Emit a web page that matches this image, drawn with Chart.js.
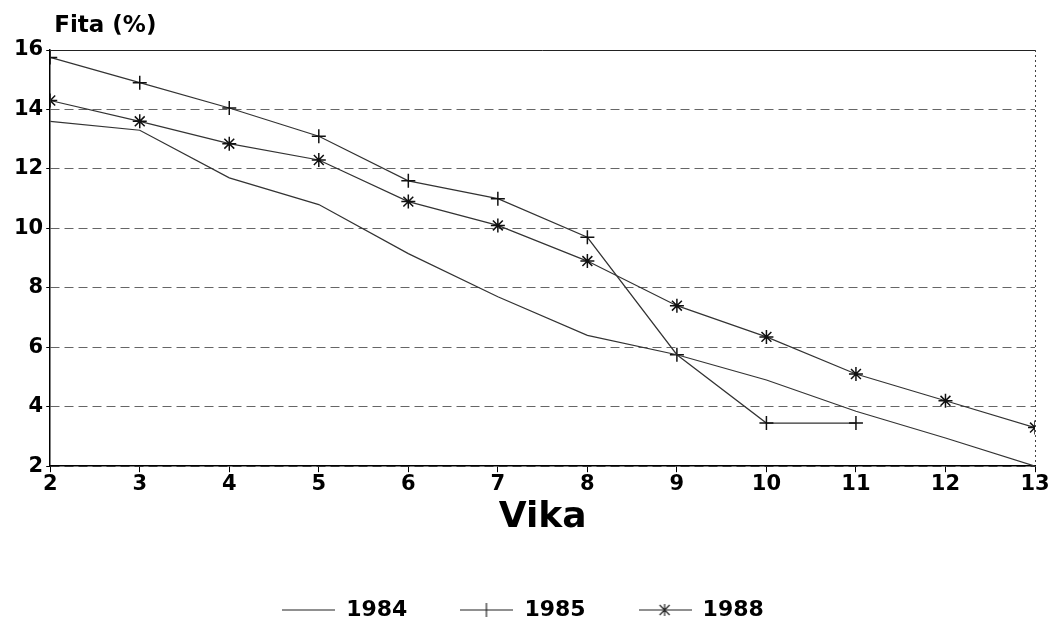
<!DOCTYPE html>
<html>
<head>
<meta charset="utf-8">
<script src="https://cdn.jsdelivr.net/npm/chart.js@4.4.1/dist/chart.umd.min.js"></script>
<style>
  body { margin: 0; background: #fff; }
</style>
</head>
<body>
<canvas id="chart" width="1052" height="631"></canvas>
<script>
const weeks = [2, 3, 4, 5, 6, 7, 8, 9, 10, 11, 12, 13];
const fat1984 = [13.6, 13.3, 11.7, 10.8, 9.15, 7.7, 6.4, 5.75, 4.9, 3.85, 2.95, 2.0];
const fat1985 = [15.75, 14.9, 14.05, 13.1, 11.6, 11.0, 9.7, 5.75, 3.45, 3.45];
const fat1988 = [14.3, 13.6, 12.85, 12.3, 10.9, 10.1, 8.9, 7.4, 6.35, 5.1, 4.2, 3.3];
const yTicks = [2, 4, 6, 8, 10, 12, 14, 16];

const FONT = "'DejaVu Sans', 'Liberation Sans', Arial, sans-serif";

const toPoints = (vals) => vals.map((v, i) => ({ x: weeks[i], y: v }));

// small legend icons: a line with the series marker in the middle
const legendIcon = (style) => {
    const c = document.createElement('canvas');
    c.width = 53; c.height = 16;
    const g = c.getContext('2d');
    g.strokeStyle = '#222';
    g.lineWidth = 1.2;
    g.beginPath(); g.moveTo(0, 8); g.lineTo(53, 8); g.stroke();
    if (style === 'cross') {
        g.beginPath(); g.moveTo(26, 1); g.lineTo(26, 15); g.stroke();
    } else if (style === 'star') {
        g.beginPath();
        g.moveTo(26, 2); g.lineTo(26, 14);
        g.moveTo(21, 3); g.lineTo(31, 13);
        g.moveTo(31, 3); g.lineTo(21, 13);
        g.stroke();
    }
    return c;
};

const yTitle = {
    id: 'yTitle',
    afterDraw(chart) {
        const { ctx, chartArea } = chart;
        ctx.save();
        ctx.fillStyle = '#000';
        ctx.font = "bold 23px " + FONT;
        ctx.textBaseline = 'middle';
        ctx.fillText('Fita (%)', chartArea.left + 4, 26);
        ctx.restore();
    }
};

new Chart(document.getElementById('chart'), {
    type: 'line',
    data: {
        datasets: [
            {
                label: '1984',
                data: toPoints(fat1984),
                borderColor: '#333',
                borderWidth: 1.2,
                pointRadius: 0,
                pointStyle: false
            },
            {
                label: '1985',
                data: toPoints(fat1985),
                borderColor: '#333',
                borderWidth: 1.2,
                pointStyle: 'cross',
                pointRadius: 7,
                pointBorderWidth: 1.5,
                pointBorderColor: '#111'
            },
            {
                label: '1988',
                data: toPoints(fat1988),
                borderColor: '#333',
                borderWidth: 1.2,
                pointStyle: 'star',
                pointRadius: 7,
                pointBorderWidth: 1.5,
                pointBorderColor: '#111'
            }
        ]
    },
    options: {
        responsive: false,
        animation: false,
        layout: {
            padding: { top: 50, right: 17, left: 11, bottom: 0 }
        },
        scales: {
            x: {
                type: 'linear',
                min: 2,
                max: 13,
                ticks: {
                    stepSize: 1,
                    color: '#000',
                    font: { family: FONT, size: 21, weight: 'bold' },
                    padding: 0
                },
                grid: {
                    color: (ctx) => ctx.tick && ctx.tick.value === 13 ? '#444' : 'rgba(0,0,0,0)',
                    tickColor: '#000',
                    tickLength: 6
                },
                border: { color: '#000', width: 1.5, dash: [2, 3] },
                title: {
                    display: true,
                    text: 'Vika',
                    color: '#000',
                    font: { family: FONT, size: 36, weight: 'bold', lineHeight: 1.1 },
                    padding: { top: 0, bottom: 9 }
                }
            },
            y: {
                min: 2,
                max: 16,
                afterBuildTicks: (axis) => { axis.ticks = yTicks.map(v => ({ value: v })); },
                ticks: {
                    color: '#000',
                    font: { family: FONT, size: 21, weight: 'bold' },
                    padding: 3
                },
                grid: {
                    color: (ctx) => ctx.tick && ctx.tick.value === 16 ? '#222' : '#666',
                    lineWidth: 1,
                    tickLength: 4,
                    tickColor: '#000'
                },
                border: {
                    color: '#000',
                    width: 1.5,
                    dash: (ctx) => ctx.tick && ctx.tick.value === 16 ? [] : [9, 5]
                }
            }
        },
        plugins: {
            legend: {
                position: 'bottom',
                labels: {
                    color: '#000',
                    font: { family: FONT, size: 22, weight: 'bold' },
                    usePointStyle: true,
                    pointStyleWidth: 53,
                    padding: 53,
                    generateLabels: (chart) => chart.data.datasets.map((ds, i) => ({
                        text: ds.label,
                        fillStyle: '#fff',
                        strokeStyle: '#222',
                        lineWidth: 0,
                        fontColor: '#000',
                        pointStyle: legendIcon(i === 0 ? 'none' : (i === 1 ? 'cross' : 'star')),
                        datasetIndex: i
                    }))
                }
            },
            tooltip: { enabled: false }
        }
    },
    plugins: [yTitle]
});
</script>
</body>
</html>
